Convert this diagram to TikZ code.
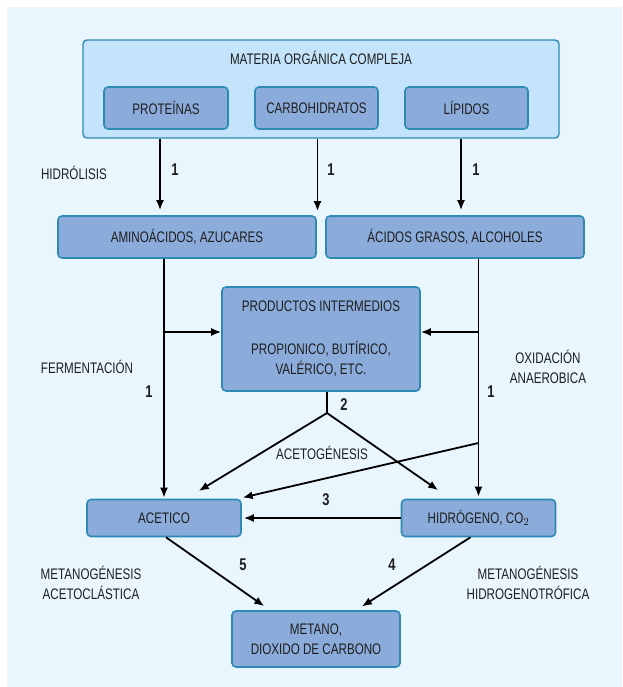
\documentclass[tikz,border=0pt]{standalone}
\usepackage{fontspec}
\setmainfont[FakeStretch=0.76]{Liberation Sans}
\usetikzlibrary{positioning,calc,arrows.meta}
\definecolor{bgblue}{HTML}{EAF6FE}
\definecolor{outerfill}{HTML}{C3E4FA}
\definecolor{boxfill}{HTML}{8BABDA}
\definecolor{boxline}{HTML}{2E8AB5}
\definecolor{ink}{HTML}{1E1E1E}

\begin{document}
\begin{tikzpicture}
		[x=1pt, y=-1pt,
		every node/.style={text=ink, font=\fontsize{15.3}{20}\selectfont},
		outerbox/.style={draw=boxline, line width=1.4pt, fill=outerfill, rounded corners=4pt},
		stagebox/.style={draw=boxline, line width=1.6pt, fill=boxfill, rounded corners=4pt, align=center},
		num/.style={font=\fontsize{17}{18}\selectfont\bfseries},
		phase/.style={align=center},
		arr/.style={line width=1.8pt, -{Latex[length=10pt,width=8pt]}},
		link/.style={line width=1.8pt}]
		\useasboundingbox (0,0) rectangle (622,687);
		\fill[bgblue] (7,7) rectangle (622,687);

		\node[outerbox, minimum width=476pt, minimum height=98pt] (mat) at (321,89) {};
		\node (mattitle) at (321,58) {MATERIA ORGÁNICA COMPLEJA};
		\node[stagebox, minimum width=124pt, minimum height=42pt] (prot) at (166,108) {PROTEÍNAS};
		\node[stagebox, minimum width=123pt, minimum height=42pt] (carb) at (316.5,108) {CARBOHIDRATOS};
		\node[stagebox, minimum width=123pt, minimum height=42pt] (lip) at (466.5,108) {LÍPIDOS};

		\node[stagebox, minimum width=258pt, minimum height=42pt] (amino) at (187,237) {AMINOÁCIDOS, AZUCARES};
		\node[stagebox, minimum width=258pt, minimum height=42pt] (acidos) at (455,237) {ÁCIDOS GRASOS, ALCOHOLES};

		\node[stagebox, minimum width=198pt, minimum height=104pt] (prod) at (321,339)
			{PRODUCTOS INTERMEDIOS\\[23pt]PROPIONICO, BUTÍRICO,\\VALÉRICO, ETC.};

		\node[stagebox, minimum width=154pt, minimum height=37pt] (acet) at (164,518) {ACETICO};
		\node[stagebox, minimum width=154pt, minimum height=37pt] (hid) at (478.5,518) {HIDRÓGENO, CO$_2$};

		\node[stagebox, minimum width=168pt, minimum height=56pt] (met) at (316,639) {METANO,\\DIOXIDO DE CARBONO};

		\node (hidrolisis) at (74,173) {HIDRÓLISIS};
		\node[phase] (ferment) at (87,367) {FERMENTACIÓN};
		\node[phase] (oxid) at (548,367) {OXIDACIÓN\\ANAEROBICA};
		\node (acetog) at (322,453) {ACETOGÉNESIS};
		\node[phase] (metacet) at (91,583) {METANOGÉNESIS\\ACETOCLÁSTICA};
		\node[phase] (methid) at (528,583) {METANOGÉNESIS\\HIDROGENOTRÓFICA};

		\node[num] (n1a) at (175,170) {1};
		\node[num] (n1b) at (331,170) {1};
		\node[num] (n1c) at (476,170) {1};
		\node[num] (n1d) at (149,392) {1};
		\node[num] (n1e) at (491,392) {1};
		\node[num] (n2) at (344,405) {2};
		\node[num] (n3) at (326,500) {3};
		\node[num] (n4) at (392,565) {4};
		\node[num] (n5) at (243,565) {5};

		\draw[arr, shorten >=5pt] ([xshift=-6pt]prot.south |- mat.south) -- ([xshift=-6pt]prot.south |- amino.north);
		\draw[arr, shorten >=4pt] ([xshift=1pt]carb.south |- mat.south) -- ([xshift=1pt]carb.south |- amino.north);
		\draw[arr, shorten >=5pt] ([xshift=-5.5pt]lip.south |- mat.south) -- ([xshift=-5.5pt]lip.south |- acidos.north);

		\draw[arr, shorten >=1pt] (acet.north |- amino.south) -- (acet.north);
		\draw[arr, shorten >=2pt] (hid.north |- acidos.south) -- (hid.north);
		\draw[arr] ([yshift=7pt]prod.west -| acet.north) -- ([yshift=7pt]prod.west);
		\draw[arr] ([yshift=7pt]prod.east -| hid.north) -- ([yshift=7pt]prod.east);

		\coordinate (split) at (327,413);
		\coordinate (tap) at (hid.north |- 0,443);
		\draw[link] (prod.south -| split) -- (split);
		\draw[arr, shorten >=15pt] (split) -- ([xshift=22pt]acet.north);
		\draw[arr, shorten >=15pt] (split) -- ([xshift=-28pt]hid.north);
		\draw[arr, shorten >=5pt] (tap) -- ([xshift=-4pt]acet.north east);

		\draw[arr, shorten >=2pt] (hid.west) -- (acet.east);
		\draw[arr, shorten >=7pt] ([xshift=2pt]acet.south) -- ([xshift=-46pt]met.north);
		\draw[arr, shorten >=7pt] ([xshift=-8pt]hid.south) -- ([xshift=40pt]met.north);
	\end{tikzpicture}
\end{document}
